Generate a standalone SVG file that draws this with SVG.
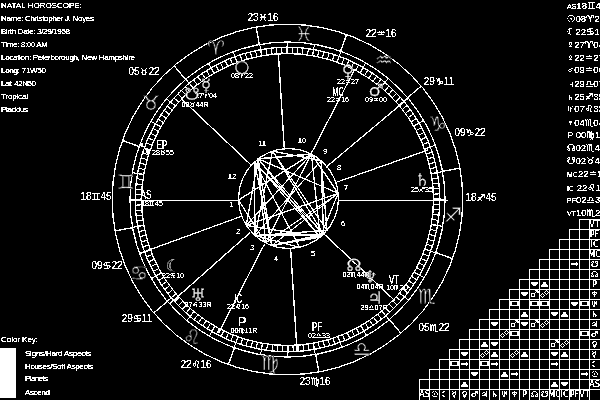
<svg xmlns="http://www.w3.org/2000/svg" width="600" height="400" viewBox="0 0 600 400">
<style>
text{font-family:"Liberation Sans","DejaVu Sans",sans-serif;fill:#fff}
.sign,.pg,.k{font-family:"DejaVu Sans","Liberation Sans",sans-serif;text-anchor:middle}
.l,.o,.h,.pt{text-anchor:middle}
.i{font-size:8px}
.o{font-size:10px}
.l{font-size:7px}
.pg{font-size:17px;stroke:#000;stroke-width:.3px}
.pt{font-size:13px}
.sign{font-size:20px;stroke:#000;stroke-width:.6px}
.h{font-size:7.5px}
.k{font-size:8px}
.r{font-size:9.5px}
.r tspan{font-size:7px}
.ln{stroke:#fff;stroke-width:1;fill:none}
.w{fill:#fff}
</style>
<defs>
<filter id="bw" filterUnits="userSpaceOnUse" x="0" y="0" width="600" height="400" color-interpolation-filters="sRGB">
<feComponentTransfer><feFuncA type="discrete" tableValues="0 1 1"/></feComponentTransfer>
</filter>
<g id="tri"><path class="w" d="M-.5-2h1l3 3.500v1h-7v-1z"/></g>
<g id="sex"><path class="w" d="M-3.500-2h7v1.500l-2.500 2.500h-2l-2.500-2.500z"/></g>
<g id="sq"><rect class="ln" x="-3.500" y="-2.500" width="7" height="4"/></g>
<g id="arr"><path class="ln" d="M-3.500 0H3.500M2-1.500L3.500 0L2 1.500"/></g>
<g id="con"><circle class="ln" cx="-1.500" cy="1" r="1.800"/><path class="ln" d="M0-.5L3-3.500M1-3.500H3.500V-1"/></g>
<g id="opp"><circle class="ln" cx="-2" cy="1.500" r="1.700"/><circle class="ln" cx="2" cy="-1.500" r="1.700"/></g>
</defs>
<rect width="600" height="400" fill="#000"/>
<g filter="url(#bw)">
<g id="header">
<text class="i" x="1" y="8" textLength="81">NATAL HOROSCOPE:</text>
<text class="i" x="1" y="21" textLength="93">Name: Christopher J. Noyes</text>
<text class="i" x="1" y="34" textLength="69">Birth Date: 3/29/1958</text>
<text class="i" x="1" y="47" textLength="47">Time: 8:00 AM</text>
<text class="i" x="1" y="60" textLength="134">Location: Peterborough, New Hampshire</text>
<text class="i" x="1" y="73" textLength="45">Long: 71W50</text>
<text class="i" x="1" y="86" textLength="35">Lat: 42N50</text>
<text class="i" x="1" y="99" textLength="27">Tropical</text>
<text class="i" x="1" y="112" textLength="27">Placidus</text>
</g>
<g id="color-key">
<text class="i" x="1" y="342" textLength="37">Color Key:</text>
<rect x="0" y="348" width="16" height="50" fill="#fff"/>
<text class="i" x="25" y="356" textLength="66">Signs/Hard Aspects</text>
<text class="i" x="25" y="369" textLength="68">Houses/Soft Aspects</text>
<text class="i" x="25" y="381" textLength="23">Planets</text>
<text class="i" x="25" y="395" textLength="25">Ascend</text>
</g>
<g id="wheel">
<circle class="ln" cx="287.500" cy="199.500" r="175.300"/>
<circle class="ln" cx="287.500" cy="199.500" r="157.500"/>
<circle class="ln" cx="287.500" cy="199.500" r="152.300"/>
<circle class="ln" cx="287.500" cy="199.500" r="146"/>
<circle class="ln" cx="288.500" cy="198.500" r="50"/>
<g transform="translate(287.500 199.500) rotate(19.700)">
<circle r="149" fill="none" stroke="#fff" stroke-width="6.500" pathLength="360" stroke-dasharray="0.300 1.700"/>
<circle r="151.700" fill="none" stroke="#fff" stroke-width="12" pathLength="360" stroke-dasharray="0.260 9.740"/>
</g>
<g class="ln" transform="translate(287.500 199.500)">
<path d="M-175 0H-157.500" transform="rotate(19.700)"/>
<path d="M-175 0H-157.500" transform="rotate(49.700)"/>
<path d="M-175 0H-157.500" transform="rotate(79.700)"/>
<path d="M-175 0H-157.500" transform="rotate(109.700)"/>
<path d="M-175 0H-157.500" transform="rotate(139.700)"/>
<path d="M-175 0H-157.500" transform="rotate(169.700)"/>
<path d="M-175 0H-157.500" transform="rotate(199.700)"/>
<path d="M-175 0H-157.500" transform="rotate(229.700)"/>
<path d="M-175 0H-157.500" transform="rotate(259.700)"/>
<path d="M-175 0H-157.500" transform="rotate(289.700)"/>
<path d="M-175 0H-157.500" transform="rotate(319.700)"/>
<path d="M-175 0H-157.500" transform="rotate(349.700)"/>
</g>
</g>
<g id="connectors" class="ln">
<g id="house-cusps" transform="translate(287.500 199.500)">
<path d="M-50 0H-147" transform="rotate(43.500)"/>
<path d="M-50 0H-147" transform="rotate(86.400)"/>
<path d="M-50 0H-147" transform="rotate(117.300)"/>
<path d="M-50 0H-157" transform="rotate(140)"/>
<path d="M-50 0H-149" transform="rotate(160.600)"/>
<path d="M-50 0H-147" transform="rotate(223.300)"/>
<path d="M-50 0H-152" transform="rotate(266.400)"/>
<path d="M-50 0H-150" transform="rotate(297.300)"/>
<path d="M-50 0H-157" transform="rotate(318.500)"/>
<path d="M-50 0H-157" transform="rotate(340)"/>
</g>
<path d="M130 200.500H238M339 200.500H448"/>
<g id="aspects">
<path d="M254.400 161.900L299.600 247.300M271.800 245.600L322.600 235.100M271.800 245.600L254.400 161.900M323.500 234.200L271.800 245.600M323.500 234.200L254.400 161.900"/>
<path d="M255 235.600L323.500 234.200M255 235.600L322.600 235.100M255 235.600L254.400 161.900M255 235.600L299.600 247.300M255 235.600L327 230.400"/>
<path d="M338.200 193.300L271.800 245.600M338.200 193.300L311.500 154.100M338.200 193.300L265.500 242.900"/>
<path d="M320.200 237.200L338.200 193.300M320.200 237.200L323.500 234.200M320.200 237.200L271.800 245.600M320.200 237.200L254.400 161.900"/>
<path d="M321.100 160.600L255 235.600M321.100 160.600L323.500 234.200M321.100 160.600L327 230.400"/>
<path d="M311.400 154L320.200 237.200M311.400 154L338.200 193.300M311.400 154L265.500 242.900"/>
<path d="M258.100 158.800L311.400 154M258.100 158.800L320.200 237.200M258.100 158.800L338.200 193.300M258.100 158.800L323.500 234.200M258.100 158.800L271.800 245.600M258.100 158.800L311.500 154.100M258.100 158.800L265.500 242.900"/>
<path d="M246.300 225.400L258.100 158.800M246.300 225.400L311.400 154M246.300 225.400L320.200 237.200M246.300 225.400L338.200 193.300M246.300 225.400L311.500 154.100"/>
<path d="M272.500 151.100L321.100 160.600M272.500 151.100L255 235.600M272.500 151.100L323.500 234.200M272.500 151.100L327 230.400"/>
<path d="M238.500 200L311.400 154M238.500 200L311.500 154.100M238.500 200L265.500 242.900"/>
</g>
</g>
<g id="signs">
<text class="sign" x="216" y="55">♈</text>
<text class="sign" x="151" y="110">♉</text>
<text class="sign" x="126" y="189">♊</text>
<text class="sign" x="139" y="280">♋</text>
<text class="sign" x="192" y="344">♌</text>
<text class="sign" x="270" y="370">♍</text>
<text class="sign" x="362" y="356">♎</text>
<text class="sign" x="427" y="303">♏</text>
<text class="sign" x="453" y="222">♐</text>
<text class="sign" x="438" y="131">♑</text>
<text class="sign" x="384" y="67">♒</text>
<text class="sign" x="304" y="41">♓</text>
</g>
<g id="cusp-labels">
<text class="o" x="263" y="21">23♓16</text>
<text class="o" x="381" y="37">22♒16</text>
<text class="o" x="439" y="85">29♑11</text>
<text class="o" x="470" y="136">09♑22</text>
<text class="o" x="481" y="201">18♐45</text>
<text class="o" x="434" y="331">05♏22</text>
<text class="o" x="315" y="385">23♍16</text>
<text class="o" x="196" y="368">22♌16</text>
<text class="o" x="137" y="322">29♋11</text>
<text class="o" x="107" y="269">09♋22</text>
<text class="o" x="96" y="200">18♊45</text>
<text class="o" x="144" y="75">05♉22</text>
</g>
<g id="house-numbers">
<text class="h" x="262" y="146">11</text><text class="h" x="302" y="143">10</text>
<text class="h" x="325" y="154">9</text><text class="h" x="339" y="170">8</text>
<text class="h" x="346" y="190">7</text><text class="h" x="343" y="226">6</text>
<text class="h" x="313" y="256">5</text><text class="h" x="276" y="261">4</text>
<text class="h" x="252" y="250">3</text><text class="h" x="238" y="234">2</text>
<text class="h" x="231" y="207">1</text><text class="h" x="232" y="179">12</text>
</g>
<g id="as"><text class="pt" x="146" y="199" textLength="11" lengthAdjust="spacingAndGlyphs">AS</text><text class="l" x="152" y="206">18♊45</text></g>
<g id="sun"><text class="pg" x="242" y="72">○</text><text class="l" x="242" y="78">08♈22</text></g>
<g id="moon"><text class="pg" x="173" y="272">☾</text><text class="l" x="173" y="278">22♋10</text></g>
<g id="mercury"><text class="pg" x="206" y="91">☿</text><text class="l" x="206" y="98">27♈04</text></g>
<g id="venus"><text class="pg" x="348" y="77">♀</text><text class="l" x="348" y="84">22♒27</text></g>
<g id="mars"><text class="pg" x="376" y="96">♂</text><text class="l" x="376" y="102">09♒00</text></g>
<g id="jupiter"><text class="pg" x="375" y="304">♃</text><text class="l" x="374" y="310">29♎07R</text></g>
<g id="saturn"><text class="pg" x="422" y="186">♄</text><text class="l" x="422" y="192">25♐35</text></g>
<g id="uranus"><text class="pg" x="198" y="301">♅</text><text class="l" x="198" y="307">07♌33R</text></g>
<g id="neptune"><text class="pg" x="370" y="283">♆</text><text class="l" x="370" y="289">04♏04R</text></g>
<g id="pluto"><text class="pt" x="242" y="326">P</text><text class="l" x="244" y="333">00♍11R</text></g>
<g id="north-node"><text class="pg" x="354" y="271">☊</text><text class="l" x="356" y="277">02♏44R</text></g>
<g id="south-node"><text class="pg" x="192" y="100">☋</text><text class="l" x="195" y="107">02♉44R</text></g>
<g id="mc"><text class="pt" x="338" y="96" textLength="11" lengthAdjust="spacingAndGlyphs">MC</text><text class="l" x="338" y="102">22♒16</text></g>
<g id="ic"><text class="pt" x="238" y="303" textLength="8" lengthAdjust="spacingAndGlyphs">IC</text><text class="l" x="238" y="309">22♌16</text></g>
<g id="pf"><text class="pt" x="317" y="331" textLength="10" lengthAdjust="spacingAndGlyphs">PF</text><text class="l" x="319" y="338">02♎33</text></g>
<g id="vt"><text class="pt" x="394" y="284" textLength="10" lengthAdjust="spacingAndGlyphs">VT</text><text class="l" x="397" y="290">10♏20</text></g>
<g id="ep"><text class="pt" x="162" y="149" textLength="11" lengthAdjust="spacingAndGlyphs">EP</text><text class="l" x="163" y="155">28♉55</text></g>
<g id="listing">
<text class="r" x="567" y="9"><tspan>AS</tspan>18♊45</text>
<text class="r" x="567" y="22">☉08♈22</text>
<text class="r" x="567" y="35">☾22♋10</text>
<text class="r" x="567" y="48">☿27♈04</text>
<text class="r" x="567" y="61">♀22♒27</text>
<text class="r" x="567" y="73">♂09♒00</text>
<text class="r" x="567" y="87">♃29♎07R</text>
<text class="r" x="567" y="100">♄25♐35</text>
<text class="r" x="567" y="112">♅07♌33R</text>
<text class="r" x="567" y="126">♆04♏04R</text>
<text class="r" x="567" y="138">P 00♍11R</text>
<text class="r" x="567" y="151">☊02♏44R</text>
<text class="r" x="567" y="164">☋02♉44R</text>
<text class="r" x="567" y="177"><tspan>MC</tspan>22♒16</text>
<text class="r" x="567" y="191"><tspan>IC</tspan> 22♌16</text>
<text class="r" x="567" y="203"><tspan>PF</tspan>02♎33</text>
<text class="r" x="567" y="216"><tspan>VT</tspan>10♏20</text>
</g>
<g id="aspect-grid">
<path class="ln" d="M579.500 219.500H600M569.500 229.500H600M559.500 239.500H600M549.500 249.500H600M539.500 259.500H600M529.500 269.500H600M519.500 279.500H600M509.500 289.500H600M499.500 299.500H600M489.500 309.500H600M479.500 319.500H600M469.500 329.500H600M459.500 339.500H600M449.500 349.500H600M439.500 359.500H600M429.500 369.500H600M419.500 379.500H600M419.500 389.500H600"/>
<path class="ln" d="M419.500 379.500V400M429.500 369.500V400M439.500 359.500V400M449.500 349.500V400M459.500 339.500V400M469.500 329.500V400M479.500 319.500V400M489.500 309.500V400M499.500 299.500V400M509.500 289.500V400M519.500 279.500V400M529.500 269.500V400M539.500 259.500V400M549.500 249.500V400M559.500 239.500V400M569.500 229.500V400M579.500 219.500V400M589.500 219.500V400"/>
<g id="row-labels">
<text class="k" x="594.500" y="227">VT</text><text class="k" x="594.500" y="237">PF</text><text class="k" x="594.500" y="247">IC</text>
<text class="k" x="594.500" y="257">MC</text><text class="k" x="594.500" y="267">☋</text><text class="k" x="594.500" y="277">☊</text>
<text class="k" x="594.500" y="287">P</text><text class="k" x="594.500" y="297">♆</text><text class="k" x="594.500" y="307">♅</text>
<text class="k" x="594.500" y="317">♄</text><text class="k" x="594.500" y="327">♃</text><text class="k" x="594.500" y="337">♂</text>
<text class="k" x="594.500" y="347">♀</text><text class="k" x="594.500" y="357">☿</text><text class="k" x="594.500" y="367">☾</text>
<text class="k" x="594.500" y="377">☉</text><text class="k" x="594.500" y="387">AS</text>
</g>
<g id="col-labels">
<text class="k" x="424.500" y="397">AS</text><text class="k" x="434.500" y="397">☉</text><text class="k" x="444.500" y="397">☾</text>
<text class="k" x="454.500" y="397">☿</text><text class="k" x="464.500" y="397">♀</text><text class="k" x="474.500" y="397">♂</text>
<text class="k" x="484.500" y="397">♃</text><text class="k" x="494.500" y="397">♄</text><text class="k" x="504.500" y="397">♅</text>
<text class="k" x="514.500" y="397">♆</text><text class="k" x="524.500" y="397">P</text><text class="k" x="534.500" y="397">☊</text>
<text class="k" x="544.500" y="397">☋</text><text class="k" x="554.500" y="397">MC</text><text class="k" x="564.500" y="397">IC</text>
<text class="k" x="574.500" y="397">PF</text><text class="k" x="584.500" y="397">VT</text>
</g>
<g id="cells">
<use href="#arr" x="574.500" y="264"/>
<use href="#sex" x="534.500" y="284"/><use href="#tri" x="544.500" y="284"/>
<use href="#sex" x="524.500" y="294"/><use href="#con" x="534.500" y="294"/><use href="#opp" x="544.500" y="294"/>
<use href="#sq" x="514.500" y="304"/><use href="#sq" x="534.500" y="304"/><use href="#sq" x="544.500" y="304"/><use href="#sex" x="574.500" y="304"/><use href="#sq" x="584.500" y="304"/>
<use href="#tri" x="524.500" y="314"/><use href="#sex" x="554.500" y="314"/><use href="#tri" x="564.500" y="314"/>
<use href="#sex" x="494.500" y="324"/><use href="#con" x="514.500" y="324"/><use href="#sex" x="524.500" y="324"/><use href="#con" x="534.500" y="324"/><use href="#opp" x="544.500" y="324"/>
<use href="#opp" x="504.500" y="334"/><use href="#sq" x="514.500" y="334"/><use href="#sq" x="584.500" y="334"/>
<use href="#tri" x="484.500" y="344"/><use href="#sex" x="494.500" y="344"/><use href="#con" x="554.500" y="344"/><use href="#opp" x="564.500" y="344"/>
<use href="#sex" x="464.500" y="354"/><use href="#opp" x="484.500" y="354"/><use href="#tri" x="494.500" y="354"/><use href="#opp" x="514.500" y="354"/><use href="#tri" x="524.500" y="354"/><use href="#sex" x="554.500" y="354"/><use href="#tri" x="564.500" y="354"/>
<use href="#sq" x="454.500" y="364"/><use href="#arr" x="464.500" y="364"/><use href="#sq" x="484.500" y="364"/><use href="#arr" x="494.500" y="364"/><use href="#arr" x="554.500" y="364"/>
<use href="#sex" x="474.500" y="374"/><use href="#tri" x="504.500" y="374"/><use href="#arr" x="514.500" y="374"/><use href="#arr" x="584.500" y="374"/>
<use href="#tri" x="464.500" y="384"/><use href="#tri" x="554.500" y="384"/><use href="#sex" x="564.500" y="384"/>
</g>
</g>
</g>
</svg>
